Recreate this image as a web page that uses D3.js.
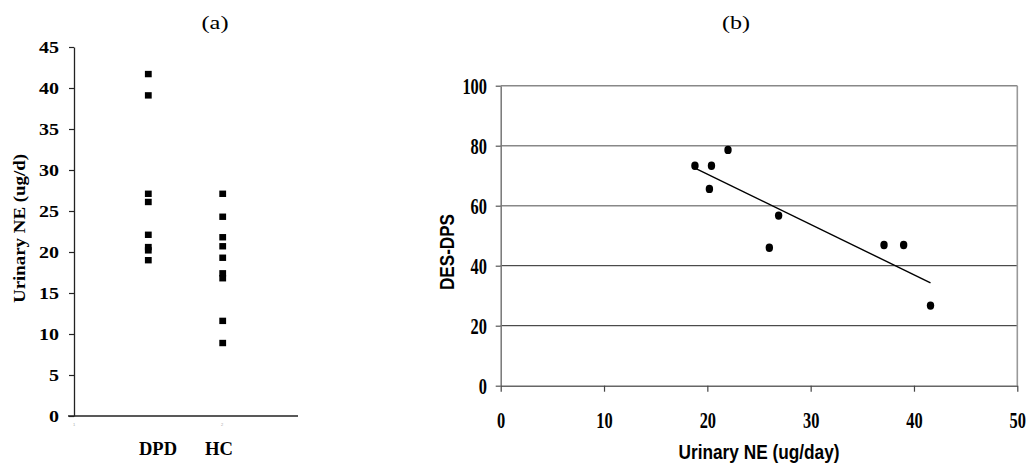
<!DOCTYPE html>
<html>
<head>
<meta charset="utf-8">
<script src="https://cdn.jsdelivr.net/npm/d3@7"></script>
<style>
  body { margin: 0; background: #fff; }
  svg { display: block; }
</style>
</head>
<body>
<svg id="chart" width="1028" height="472"></svg>
<script>
// panel (a) - urinary NE by group
var groups = ["DPD", "HC"];
var dpdValues = [41.7, 39.1, 27.1, 26.1, 22.1, 20.6, 20.2, 19.0];
var hcValues = [27.1, 24.3, 21.8, 20.7, 19.3, 17.4, 16.8, 11.6, 8.9];
var yTicksA = [0, 5, 10, 15, 20, 25, 30, 35, 40, 45];

// panel (b) - DES-DPS vs urinary NE
var neValues = [18.8, 20.4, 20.2, 22.0, 26.9, 26.0, 37.1, 39.0, 41.6];
var desValues = [73.3, 73.3, 65.6, 78.6, 56.7, 46.0, 46.9, 46.9, 26.7];
var xTicksB = [0, 10, 20, 30, 40, 50];
var yTicksB = [0, 20, 40, 60, 80, 100];

var svg = d3.select("#chart");
var serif = "'Liberation Serif', Tinos, 'Times New Roman', Times, 'Nimbus Roman', FreeSerif, serif";
var sans = "'Liberation Sans Narrow', 'Arial Narrow', 'Liberation Sans', Arial, sans-serif";

// squeeze/stretch a text to a given width, whatever font got picked
function fit(sel, w) {
  sel.attr("textLength", w).attr("lengthAdjust", "spacingAndGlyphs");
}

// ---------- panel (a) ----------
var ya = d3.scaleLinear().domain([0, 45]).range([416, 47]);
var xa = d3.scalePoint().domain(groups).range([148.3, 222.7]);
var xaLabel = d3.scalePoint().domain(groups).range([158, 219]);

var gA = svg.append("g");

gA.append("text")
  .attr("x", 215).attr("y", 29)
  .attr("text-anchor", "middle")
  .style("font-family", serif).style("font-size", "19px")
  .text("(a)")
  .call(fit, 27);

var axA = gA.append("g")
  .attr("transform", "translate(74,0)")
  .call(d3.axisLeft(ya).tickValues(yTicksA).tickSize(5).tickSizeOuter(0));
axA.select(".domain").attr("stroke", "#222").attr("stroke-width", 1.3);
axA.selectAll(".tick line").attr("stroke", "#222").attr("stroke-width", 1.2);
axA.selectAll(".tick text")
  .attr("x", -15)
  .style("font-family", serif).style("font-size", "16px").style("font-weight", "bold")
  .attr("fill", "#000")
  .each(function(d) { d3.select(this).call(fit, String(d).length * 10); });

gA.append("line")
  .attr("x1", 68).attr("x2", 298)
  .attr("y1", ya(0)).attr("y2", ya(0))
  .attr("stroke", "#222").attr("stroke-width", 1.5);

// faint category index marks under the axis
gA.selectAll("text.idx").data(["1", "2"]).enter().append("text")
  .attr("class", "idx")
  .attr("x", function(d, i) { return i === 0 ? 74 : 222; })
  .attr("y", 426)
  .attr("text-anchor", "middle")
  .style("font-family", sans).style("font-size", "4px")
  .attr("fill", "#aaa")
  .text(function(d) { return d; });

gA.selectAll("text.grp").data(groups).enter().append("text")
  .attr("class", "grp")
  .attr("x", function(d) { return xaLabel(d); })
  .attr("y", 455)
  .attr("text-anchor", "middle")
  .style("font-family", serif).style("font-size", "18px").style("font-weight", "bold")
  .text(function(d) { return d; })
  .each(function(d) { d3.select(this).call(fit, d === "DPD" ? 38 : 28); });

gA.append("text")
  .attr("transform", "translate(19.5,228.5) rotate(-90)")
  .attr("text-anchor", "middle")
  .attr("dominant-baseline", "central")
  .style("font-family", serif).style("font-size", "16px").style("font-weight", "bold")
  .text("Urinary NE (ug/d)")
  .call(fit, 149);

var ptsA = [];
dpdValues.forEach(function(v) { ptsA.push({g: "DPD", v: v}); });
hcValues.forEach(function(v) { ptsA.push({g: "HC", v: v}); });

gA.selectAll("rect.pt").data(ptsA).enter().append("rect")
  .attr("class", "pt")
  .attr("x", function(d) { return xa(d.g) - 3.4; })
  .attr("y", function(d) { return ya(d.v) - 3.2; })
  .attr("width", 6.8).attr("height", 6.4)
  .attr("fill", "#000");

// ---------- panel (b) ----------
var xb = d3.scaleLinear().domain([0, 50]).range([500.7, 1017.3]);
var yb = d3.scaleLinear().domain([0, 100]).range([385.7, 85.7]);

var gB = svg.append("g");

gB.append("text")
  .attr("x", 736).attr("y", 29)
  .attr("text-anchor", "middle")
  .style("font-family", serif).style("font-size", "19px")
  .text("(b)")
  .call(fit, 28);

// gridlines
gB.selectAll("line.grid").data(yTicksB.slice(1)).enter().append("line")
  .attr("class", "grid")
  .attr("x1", xb(0)).attr("x2", xb(50))
  .attr("y1", function(d) { return yb(d); })
  .attr("y2", function(d) { return yb(d); })
  .attr("stroke", function(d) { return d <= 40 ? "#222" : "#888"; })
  .attr("stroke-width", function(d) { return d <= 40 ? 1 : 1.6; });

// right border
gB.append("line")
  .attr("x1", xb(50)).attr("x2", xb(50))
  .attr("y1", yb(100)).attr("y2", yb(0))
  .attr("stroke", "#999").attr("stroke-width", 1.6);

var axBy = gB.append("g")
  .attr("transform", "translate(" + xb(0) + ",0)")
  .call(d3.axisLeft(yb).tickValues(yTicksB).tickSize(5).tickSizeOuter(0));
axBy.select(".domain").attr("stroke", "#777").attr("stroke-width", 1.5);
axBy.selectAll(".tick line").attr("stroke", "#555").attr("stroke-width", 1.2);
axBy.selectAll(".tick text")
  .attr("x", -13.7)
  .style("font-family", serif).style("font-size", "23px").style("font-weight", "bold")
  .attr("fill", "#000")
  .each(function(d) { d3.select(this).call(fit, String(d).length * 8.2); });

var axBx = gB.append("g")
  .attr("transform", "translate(0," + yb(0) + ")")
  .call(d3.axisBottom(xb).tickValues(xTicksB).tickSize(6).tickSizeOuter(0));
axBx.select(".domain").attr("stroke", "#666").attr("stroke-width", 1.5);
axBx.selectAll(".tick line").attr("stroke", "#444").attr("stroke-width", 1.2);
axBx.selectAll(".tick text")
  .attr("y", 34.3).attr("dy", "0.35em")
  .style("font-family", serif).style("font-size", "23px").style("font-weight", "bold")
  .attr("fill", "#000")
  .each(function(d) { d3.select(this).call(fit, String(d).length * 8.2); });

gB.append("text")
  .attr("x", xb(25)).attr("y", 459)
  .attr("text-anchor", "middle")
  .style("font-family", sans).style("font-size", "20px").style("font-weight", "bold")
  .text("Urinary NE (ug/day)")
  .call(fit, 161);

gB.append("text")
  .attr("transform", "translate(447,252) rotate(-90)")
  .attr("text-anchor", "middle")
  .attr("dominant-baseline", "central")
  .style("font-family", sans).style("font-size", "20px").style("font-weight", "bold")
  .text("DES-DPS")
  .call(fit, 76);

// least squares trend line
var mx = d3.mean(neValues), my = d3.mean(desValues);
var sxy = d3.sum(neValues, function(v, i) { return (v - mx) * (desValues[i] - my); });
var sxx = d3.sum(neValues, function(v) { return (v - mx) * (v - mx); });
var slope = sxy / sxx, icpt = my - slope * mx;
var xr = d3.extent(neValues);

gB.append("path")
  .datum(xr.map(function(x) { return [x, icpt + slope * x]; }))
  .attr("d", d3.line().x(function(d) { return xb(d[0]); }).y(function(d) { return yb(d[1]); }))
  .attr("fill", "none").attr("stroke", "#000").attr("stroke-width", 1.4);

gB.selectAll("ellipse.pt").data(neValues).enter().append("ellipse")
  .attr("class", "pt")
  .attr("cx", function(d) { return xb(d); })
  .attr("cy", function(d, i) { return yb(desValues[i]); })
  .attr("rx", 3.7).attr("ry", 4.2)
  .attr("fill", "#000");
</script>
</body>
</html>
